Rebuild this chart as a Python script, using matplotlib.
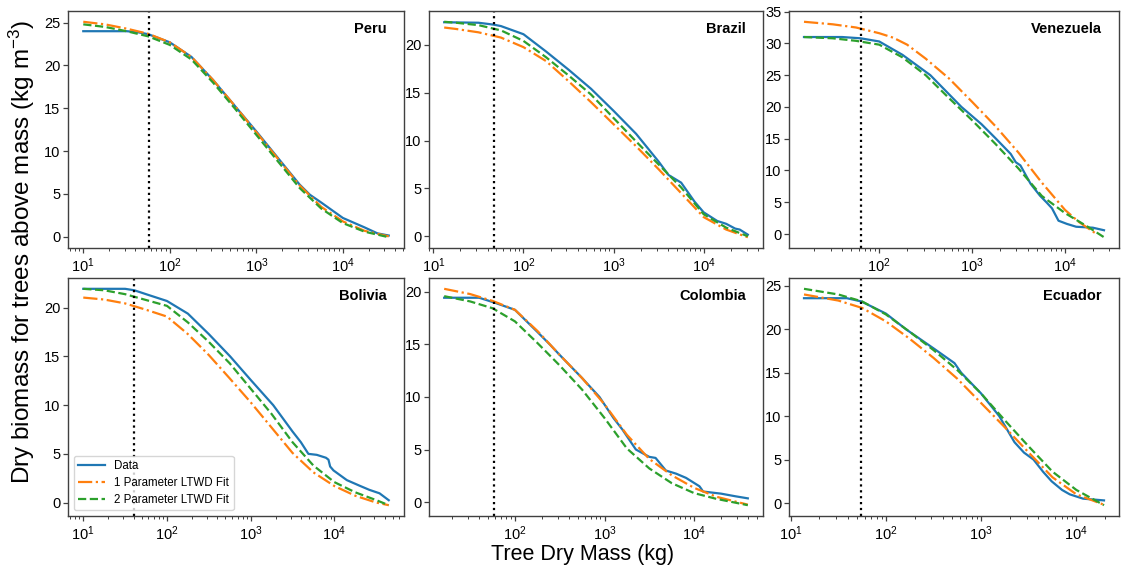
import numpy as np
import matplotlib
matplotlib.use("Agg")
import matplotlib.pyplot as plt

plt.rcParams['font.family'] = ['Liberation Sans', 'DejaVu Sans']
plt.rcParams['mathtext.fontset'] = 'custom'
plt.rcParams['mathtext.rm'] = 'Liberation Sans'
plt.rcParams['mathtext.it'] = 'Liberation Sans:italic'
plt.rcParams['mathtext.bf'] = 'Liberation Sans:bold'

countries = ["Peru", "Brazil", "Venezuela", "Bolivia", "Colombia", "Ecuador"]
# vertical dotted line position (log10 kg)
cutoff_log = [1.756, 1.67, 1.805, 1.61, 1.767, 1.741]

# ---- Peru ----
peru_data_m = [1.0, 1.5, 1.62, 1.75, 2.0, 2.25, 2.5, 2.75, 3.0, 3.25, 3.5, 3.62, 3.75, 4.0, 4.25, 4.4, 4.53]
peru_data_y = [24.0, 24.0, 23.9, 23.65, 22.7, 21.0, 18.3, 15.3, 12.3, 9.2, 6.1, 4.9, 4.0, 2.2, 1.1, 0.4, 0.15]
peru_fit_m = [1.0, 1.25, 1.5, 1.75, 2.0, 2.25, 2.5, 2.75, 3.0, 3.25, 3.5, 3.75, 4.0, 4.25, 4.53]
peru_fit1 = [25.1, 24.8, 24.3, 23.7, 22.7, 21.0, 18.3, 15.3, 12.2, 9.1, 6.0, 3.5, 1.8, 0.7, 0.05]
peru_fit2 = [24.8, 24.5, 24.0, 23.4, 22.4, 20.7, 18.0, 15.0, 11.9, 8.8, 5.7, 3.3, 1.6, 0.6, -0.05]

# ---- Brazil ----
brazil_data_m = [1.12, 1.5, 1.67, 1.75, 2.0, 2.25, 2.5, 2.75, 3.0, 3.25, 3.5, 3.61, 3.75, 3.9, 4.0, 4.15, 4.25, 4.35, 4.4, 4.49]
brazil_data_y = [22.35, 22.3, 22.1, 21.95, 21.1, 19.3, 17.4, 15.4, 13.1, 10.7, 7.8, 6.4, 5.6, 3.6, 2.5, 1.6, 1.3, 0.8, 0.7, 0.17]
brazil_fit_m = [1.12, 1.25, 1.5, 1.75, 2.0, 2.25, 2.5, 2.75, 3.0, 3.25, 3.5, 3.75, 4.0, 4.25, 4.49]
brazil_fit1 = [21.8, 21.65, 21.3, 20.75, 19.75, 18.3, 16.2, 14.0, 11.7, 9.4, 7.0, 4.5, 2.0, 0.7, -0.1]
brazil_fit2 = [22.4, 22.3, 22.05, 21.5, 20.4, 18.7, 16.8, 14.8, 12.35, 9.9, 7.5, 5.1, 2.3, 0.9, 0.0]

# ---- Venezuela ----
venezuela_data_m = [1.19, 1.6, 1.8, 2.0, 2.25, 2.55, 2.885, 3.1, 3.257, 3.416, 3.47, 3.52, 3.63, 3.73, 3.8, 3.86, 3.93, 4.02, 4.12, 4.30, 4.42]
venezuela_data_y = [31.0, 31.0, 30.8, 30.3, 28.2, 25.0, 20.0, 17.3, 15.0, 12.6, 11.3, 10.8, 7.9, 6.05, 5.0, 4.05, 2.1, 1.6, 1.15, 1.0, 0.6]
venezuela_fit1_m = [1.19, 1.5, 1.75, 2.0, 2.15, 2.3, 2.5, 2.75, 3.0, 3.25, 3.5, 3.75, 4.0, 4.15, 4.33]
venezuela_fit1 = [33.4, 33.0, 32.5, 31.6, 30.9, 29.8, 27.6, 24.5, 20.8, 17.0, 12.8, 8.1, 3.8, 1.9, 0.1]
venezuela_fit_m = [1.19, 1.5, 1.75, 2.0, 2.25, 2.5, 2.75, 3.0, 3.25, 3.5, 3.75, 4.0, 4.25, 4.42]
venezuela_fit2 = [31.0, 30.8, 30.4, 29.8, 27.8, 25.0, 21.4, 17.9, 14.2, 10.3, 6.0, 3.3, 1.1, -0.5]

# ---- Bolivia ----
bolivia_data_m = [1.0, 1.5, 1.61, 1.75, 2.0, 2.25, 2.5, 2.756, 3.0, 3.27, 3.5, 3.6, 3.69, 3.79, 3.9, 3.93, 3.95, 3.99, 4.15, 4.31, 4.42, 4.54, 4.65]
bolivia_data_y = [21.95, 21.95, 21.8, 21.4, 20.7, 19.4, 17.3, 15.0, 12.6, 10.0, 7.3, 6.2, 5.0, 4.9, 4.6, 4.4, 3.7, 3.3, 2.3, 1.7, 1.3, 0.95, 0.24]
bolivia_fit_m = [1.0, 1.25, 1.5, 1.75, 2.0, 2.25, 2.5, 2.75, 3.0, 3.25, 3.5, 3.75, 4.0, 4.25, 4.5, 4.65]
bolivia_fit1 = [21.05, 20.85, 20.45, 19.8, 19.1, 17.3, 15.15, 12.75, 10.3, 7.7, 5.1, 3.1, 1.7, 0.7, 0.0, -0.27]
bolivia_fit2 = [21.95, 21.8, 21.4, 20.8, 20.2, 18.5, 16.5, 14.3, 11.7, 9.1, 6.2, 3.8, 2.1, 1.05, 0.25, -0.27]

# ---- Colombia ----
colombia_data_m = [1.21, 1.6, 1.767, 2.0, 2.25, 2.39, 2.5, 2.75, 2.944, 3.1, 3.2, 3.35, 3.5, 3.57, 3.685, 3.8, 3.91, 4.06, 4.085, 4.1, 4.3, 4.46, 4.6]
colombia_data_y = [19.45, 19.45, 19.0, 18.3, 16.2, 15.0, 14.0, 11.8, 10.0, 8.0, 6.9, 5.0, 4.3, 4.2, 3.0, 2.7, 2.3, 1.5, 1.2, 1.0, 0.8, 0.55, 0.35]
colombia_fit_m = [1.21, 1.5, 1.75, 2.0, 2.25, 2.5, 2.75, 3.0, 3.25, 3.5, 3.75, 4.0, 4.25, 4.6]
colombia_fit1 = [20.3, 19.8, 19.15, 18.3, 16.3, 14.0, 11.8, 9.3, 6.4, 4.1, 2.55, 1.35, 0.5, -0.25]
colombia_fit2 = [19.6, 19.1, 18.45, 17.2, 15.15, 13.0, 10.7, 8.0, 5.1, 3.2, 1.8, 0.85, 0.3, -0.3]

# ---- Ecuador ----
ecuador_data_m = [1.14, 1.59, 1.741, 2.0, 2.21, 2.5, 2.72, 2.79, 3.0, 3.19, 3.35, 3.45, 3.55, 3.65, 3.74, 3.85, 3.93, 4.07, 4.29]
ecuador_data_y = [23.57, 23.57, 23.2, 21.8, 20.0, 17.8, 16.1, 15.0, 12.6, 10.0, 7.0, 5.8, 5.0, 3.6, 2.5, 1.5, 1.0, 0.5, 0.3]
ecuador_fit_m = [1.14, 1.5, 1.75, 2.0, 2.25, 2.5, 2.75, 3.0, 3.25, 3.5, 3.75, 4.0, 4.29]
ecuador_fit1 = [24.0, 23.3, 22.45, 20.9, 18.9, 16.7, 14.3, 11.5, 8.7, 5.8, 2.95, 1.0, -0.2]
ecuador_fit2 = [24.65, 24.0, 23.2, 21.7, 19.7, 17.6, 15.3, 12.6, 9.5, 6.5, 3.6, 1.5, -0.25]

panels = [
    (peru_data_m, peru_data_y, peru_fit_m, peru_fit1, peru_fit_m, peru_fit2),
    (brazil_data_m, brazil_data_y, brazil_fit_m, brazil_fit1, brazil_fit_m, brazil_fit2),
    (venezuela_data_m, venezuela_data_y, venezuela_fit1_m, venezuela_fit1, venezuela_fit_m, venezuela_fit2),
    (bolivia_data_m, bolivia_data_y, bolivia_fit_m, bolivia_fit1, bolivia_fit_m, bolivia_fit2),
    (colombia_data_m, colombia_data_y, colombia_fit_m, colombia_fit1, colombia_fit_m, colombia_fit2),
    (ecuador_data_m, ecuador_data_y, ecuador_fit_m, ecuador_fit1, ecuador_fit_m, ecuador_fit2),
]

W, H = 1121, 569
fig = plt.figure(figsize=(W / 100, H / 100), dpi=100)

col_px = [(68, 404), (429, 763), (789, 1119)]
row_px = [(11, 248), (278, 516)]

spine_col = '0.25'
for i, name in enumerate(countries):
    r, c = divmod(i, 3)
    x0, x1 = col_px[c]
    y0, y1 = row_px[r]
    ax = fig.add_axes([x0 / W, 1 - y1 / H, (x1 - x0) / W, (y1 - y0) / H])
    dm, dy, f1m, f1, f2m, f2 = panels[i]
    ax.plot(10 ** np.array(dm), dy, '-', color='#1f77b4', lw=1.6, label='Data')
    ax.plot(10 ** np.array(f1m), f1, '-.', color='#ff7f0e', lw=1.6, label='1 Parameter LTWD Fit')
    ax.plot(10 ** np.array(f2m), f2, '--', color='#2ca02c', lw=1.6, label='2 Parameter LTWD Fit')
    ax.set_xscale('log')
    ax.axvline(10 ** cutoff_log[i], color='black', ls=':', lw=1.6)
    ax.text(0.948, 0.925, name, transform=ax.transAxes, ha='right', va='center',
            fontsize=10.5, fontweight='bold')
    for s in ax.spines.values():
        s.set_color(spine_col)
        s.set_linewidth(1.0)
    ax.tick_params(axis='both', which='major', length=3.5, width=0.9, color=spine_col,
                   labelsize=10.5, pad=2)
    ax.tick_params(axis='x', which='minor', length=2, width=0.7, color=spine_col)
    ax.tick_params(axis='x', which='major', labelsize=10.5, pad=2.5)
    if i == 3:
        ax.legend(loc='lower left', fontsize=8.3, frameon=True, handlelength=2.3,
                  borderaxespad=0.5, labelspacing=0.4, edgecolor='0.8')

fig.text(0.0196, 0.557, 'Dry biomass for trees above mass (kg m$^{-3}$)', rotation=90,
         ha='center', va='center', fontsize=17.5)
fig.text(0.52, 1 - 560 / H, 'Tree Dry Mass (kg)', ha='center', va='baseline', fontsize=15.5)

fig.savefig('out.png', dpi=100)
